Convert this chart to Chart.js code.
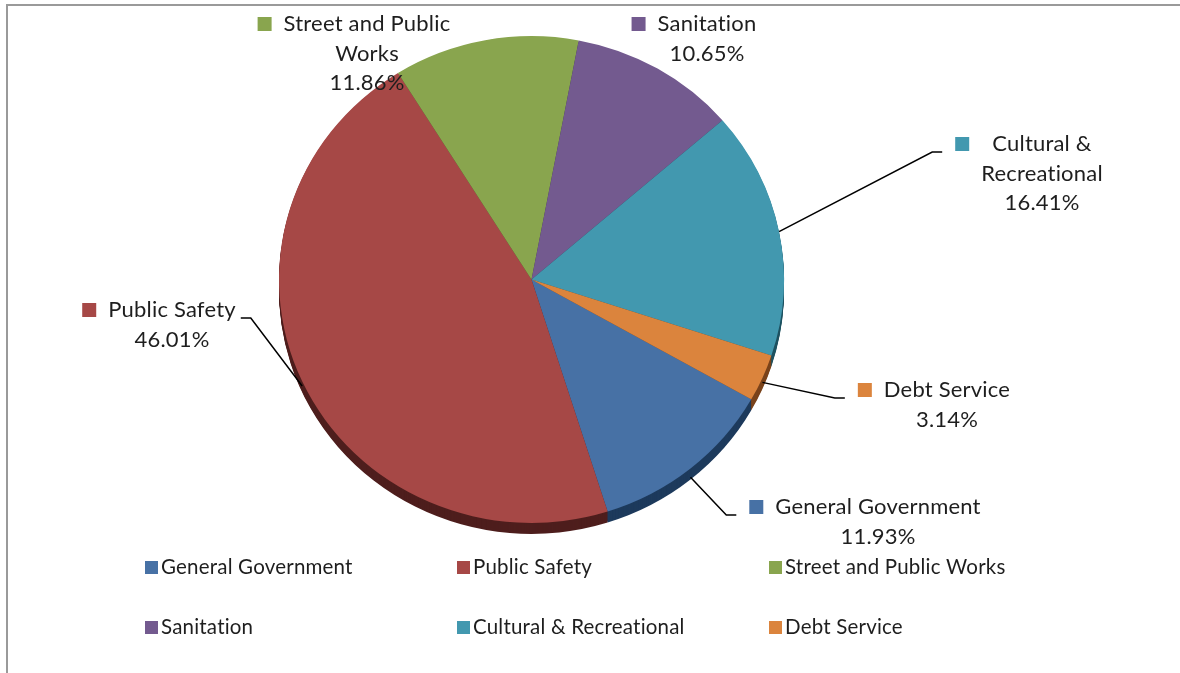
<!DOCTYPE html>
<html>
<head>
<meta charset="utf-8">
<title>General Fund Expenditures</title>
<script src="https://cdn.jsdelivr.net/npm/chart.js@4.4.1/dist/chart.umd.min.js"></script>
<style>
  html, body { margin: 0; padding: 0; background: #fff; }
  #wrap { position: relative; width: 1180px; height: 673px; }
</style>
</head>
<body>
<div id="wrap"><canvas id="pieChart" width="1180" height="673"></canvas></div>
<script>
// expenditure share by function, percent of total
const categories = ['General Government', 'Public Safety', 'Street and Public Works', 'Sanitation', 'Cultural & Recreational', 'Debt Service'];
const shares = [11.93, 46.01, 11.86, 10.65, 16.41, 3.14];

// how each category name wraps in its callout
const calloutText = [
    ['General Government'],
    ['Public Safety'],
    ['Street and Public', 'Works'],
    ['Sanitation'],
    ['Cultural &', 'Recreational'],
    ['Debt Service']
];

const sliceColors = ['#4771a5', '#a64846', '#89a54e', '#735a8f', '#4298af', '#db843d'];
const sideColors = ['#1d3a5c', '#4e1e1d', '#43562a', '#3a2c4a', '#1f5261', '#7a431b'];

// callout placement: centre of the text block and first text row, leader on/off
const calloutPos = [
    { x: 878, y: 507, leader: true },
    { x: 172, y: 310, leader: true },
    { x: 367, y: 24, leader: false },
    { x: 707, y: 24, leader: false },
    { x: 1042, y: 144, leader: true },
    { x: 947, y: 390, leader: true }
];

const TILT = 0.964;   // vertical squash of the pie face
const DEPTH = 11;     // thickness of the side wall
const LABEL_FONT = '22px Lato';
const LEGEND_FONT = '20.5px Lato';
const LINE_H = 29.5;
const TEXT_COLOR = '#1e1e1e';

// outer frame (left and top edges only are visible)
const framePlugin = {
    id: 'frame',
    beforeDraw(chart) {
        const ctx = chart.ctx;
        ctx.save();
        ctx.strokeStyle = '#9a9a9a';
        ctx.lineWidth = 2;
        ctx.beginPath();
        ctx.moveTo(7, 673);
        ctx.lineTo(7, 5);
        ctx.lineTo(1180, 5);
        ctx.stroke();
        ctx.restore();
    }
};

// squash the pie and paint a dark side wall under it
const tiltPlugin = {
    id: 'tilt',
    beforeDatasetsDraw(chart) {
        const meta = chart.getDatasetMeta(0);
        const cx = meta.data[0].x;
        const cy = meta.data[0].y;
        const ctx = chart.ctx;
        ctx.save();
        ctx.translate(cx, cy);
        ctx.scale(1, TILT);
        ctx.translate(-cx, -cy);
        for (let d = DEPTH; d > 0; d--) {
            meta.data.forEach((arc, i) => {
                const oy = cy + d / TILT;
                ctx.beginPath();
                ctx.moveTo(cx, oy);
                ctx.arc(cx, oy, arc.outerRadius, arc.startAngle, arc.endAngle);
                ctx.closePath();
                ctx.fillStyle = sideColors[i];
                ctx.fill();
            });
        }
    },
    afterDatasetsDraw(chart) {
        chart.ctx.restore();
    }
};

// category callouts with colour key and leader lines
const calloutPlugin = {
    id: 'callouts',
    afterDraw(chart) {
        const meta = chart.getDatasetMeta(0);
        const ctx = chart.ctx;
        ctx.save();
        ctx.font = LABEL_FONT;
        ctx.letterSpacing = '0.2px';   // also keeps "ti" from turning into a ligature
        ctx.textBaseline = 'middle';
        ctx.textAlign = 'center';
        meta.data.forEach((arc, i) => {
            const pos = calloutPos[i];
            const lines = calloutText[i].concat([shares[i].toFixed(2) + '%']);
            const blockW = Math.max(...lines.map(t => ctx.measureText(t).width));
            const left = pos.x - blockW / 2;
            const right = pos.x + blockW / 2;

            ctx.fillStyle = TEXT_COLOR;
            lines.forEach((t, k) => ctx.fillText(t, pos.x, pos.y + k * LINE_H));

            ctx.fillStyle = sliceColors[i];
            ctx.fillRect(left - 26, pos.y - 7, 14, 14);

            if (!pos.leader) return;
            const mid = (arc.startAngle + arc.endAngle) / 2;
            const ex = arc.x + Math.cos(mid) * arc.outerRadius;
            let ey = arc.y + Math.sin(mid) * arc.outerRadius * TILT;
            if (Math.sin(mid) > 0) ey += DEPTH * Math.sin(mid);

            let end, elbow;
            if (ex < left) {
                end = { x: left - 39, y: pos.y + 8 };
                elbow = { x: end.x - 10, y: end.y };
            } else {
                end = { x: right + 5, y: pos.y + 8 };
                elbow = { x: end.x + 10, y: end.y };
            }
            ctx.strokeStyle = '#000';
            ctx.lineWidth = 1.5;
            ctx.beginPath();
            ctx.moveTo(ex, ey);
            ctx.lineTo(elbow.x, elbow.y);
            ctx.lineTo(end.x, end.y);
            ctx.stroke();
        });
        ctx.restore();
    }
};

// three-column legend under the pie
const gridLegendPlugin = {
    id: 'gridLegend',
    afterDraw(chart) {
        const ctx = chart.ctx;
        const cols = [145, 457, 769];
        const rows = [567, 627];
        ctx.save();
        ctx.font = LEGEND_FONT;
        ctx.letterSpacing = '0.2px';
        ctx.textBaseline = 'middle';
        ctx.textAlign = 'left';
        categories.forEach((name, i) => {
            const x = cols[i % 3];
            const y = rows[Math.floor(i / 3)];
            ctx.fillStyle = sliceColors[i];
            ctx.fillRect(x, y - 6, 13, 13);
            ctx.fillStyle = TEXT_COLOR;
            ctx.fillText(name, x + 16, y);
        });
        ctx.restore();
    }
};

new Chart(document.getElementById('pieChart'), {
    type: 'pie',
    data: {
        labels: categories,
        datasets: [{
            data: shares,
            backgroundColor: sliceColors,
            borderWidth: 0,
            hoverOffset: 0,
            clip: false
        }]
    },
    options: {
        responsive: false,
        animation: false,
        rotation: 119.5,
        events: [],
        layout: {
            padding: { left: 279, right: 396, top: 27, bottom: 141 }
        },
        plugins: {
            legend: { display: false },
            tooltip: { enabled: false }
        }
    },
    plugins: [framePlugin, tiltPlugin, calloutPlugin, gridLegendPlugin]
});
</script>
</body>
</html>
